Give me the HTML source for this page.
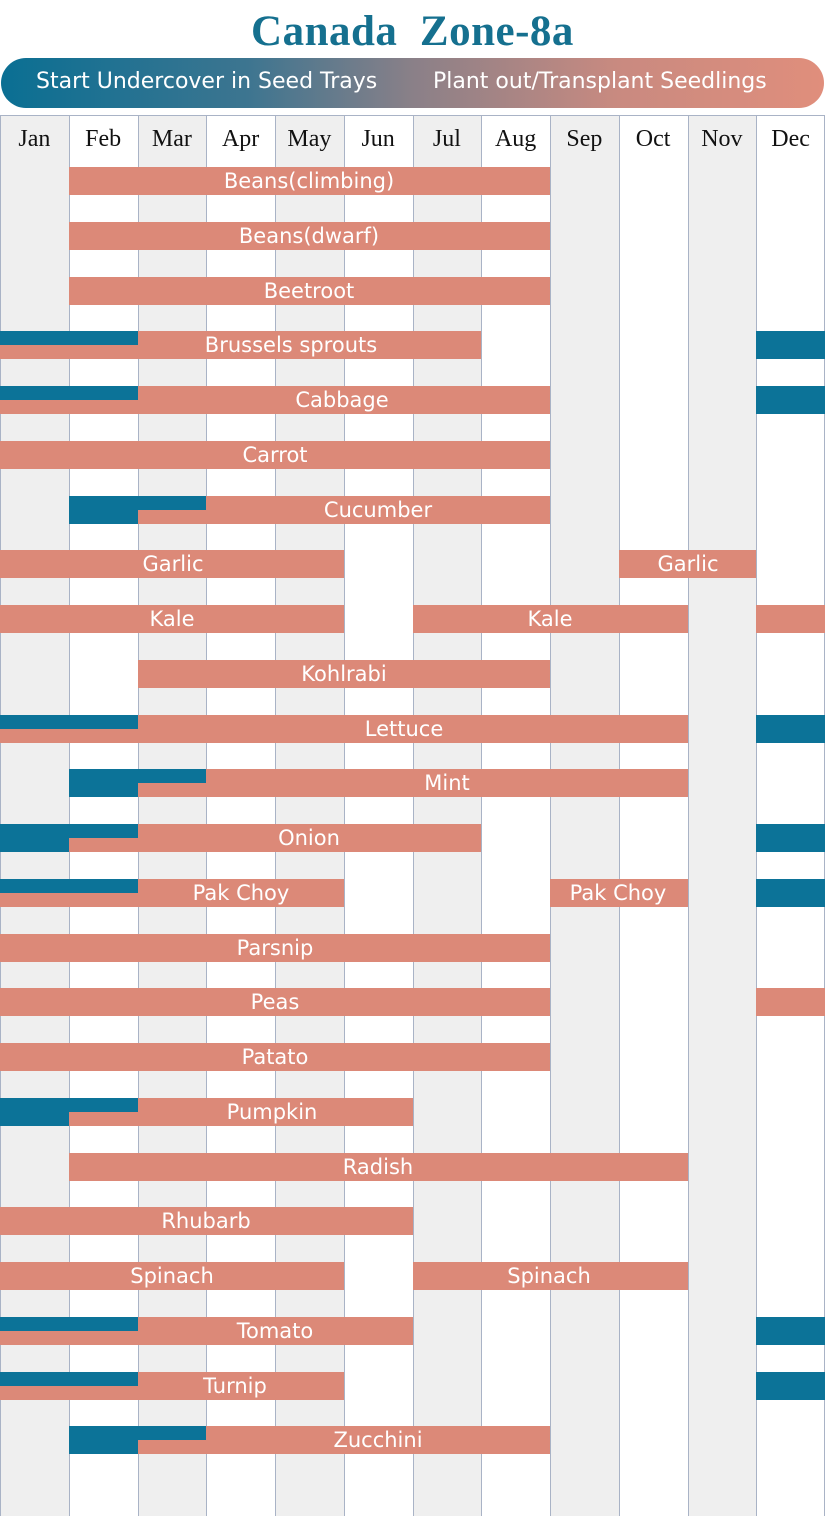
<!DOCTYPE html>
<html><head><meta charset="utf-8"><style>
body{margin:0;width:825px;height:1516px;position:relative;background:#fff;overflow:hidden;font-family:"DejaVu Sans","Liberation Sans",sans-serif}
.t{position:absolute;left:0;width:825px;top:7px;text-align:center;font-family:"Liberation Serif",serif;font-weight:bold;font-size:43px;color:#15708f;letter-spacing:0.5px}
.pill{position:absolute;left:1px;top:58px;width:823px;height:50px;border-radius:25px;background:linear-gradient(90deg,#0a6f93 0%,#3d7590 30%,#8a8088 50%,#c98a80 75%,#e08e7c 100%)}
.pill span{position:absolute;top:11px;color:#fff;font-size:22px}
.c{position:absolute;top:115px;height:1401px;border-left:1px solid #a9b3c6}
.m{position:absolute;top:126px;width:68.75px;text-align:center;font-family:"Liberation Serif",serif;font-size:24px;color:#111}
.b{position:absolute;height:28px;background:#dc8978}
.u{position:absolute;background:#0c7398}
.l{position:absolute;height:28px;line-height:29px;color:#fff;font-size:21px;transform:translateX(-50%);white-space:nowrap}
</style></head><body>
<div class="t">Canada&nbsp; Zone-8a</div>
<div class="pill"><span style="left:35px">Start Undercover in Seed Trays</span><span style="left:432px">Plant out/Transplant Seedlings</span></div>
<div style="position:absolute;left:0;top:115px;width:825px;border-top:1px solid #a9b3c6"></div>
<div id="g"></div>
<script>
var W=68.75,h='';
for(var i=0;i<12;i++){if(i%2==0&&i<11)h+='<div style="position:absolute;top:116px;height:1400px;left:'+(i*W)+'px;width:'+W+'px;background:#efefef"></div>';}
for(var i=0;i<=12;i++)h+='<div class="c" style="left:'+Math.min(i*W,824)+'px"></div>';
var ms=['Jan','Feb','Mar','Apr','May','Jun','Jul','Aug','Sep','Oct','Nov','Dec'];
ms.forEach(function(m,i){h+='<div class="m" style="left:'+(i*W)+'px">'+m+'</div>'});
var R=[
['Beans(climbing)',[[1,8]],[309]],
['Beans(dwarf)',[[1,8]],[309]],
['Beetroot',[[1,8]],[309]],
['Brussels sprouts',[[2,7]],[291],[[11,12]],[[0,2]]],
['Cabbage',[[2,8]],[342],[[11,12]],[[0,2]]],
['Carrot',[[0,8]],[275]],
['Cucumber',[[3,8]],[378],[[1,2]],[[2,3]]],
['Garlic',[[0,5],[9,11]],[173,688]],
['Kale',[[0,5],[6,10],[11,12]],[172,550]],
['Kohlrabi',[[2,8]],[344]],
['Lettuce',[[2,10]],[404],[[11,12]],[[0,2]]],
['Mint',[[3,10]],[447],[[1,2]],[[2,3]]],
['Onion',[[2,7]],[309],[[0,1],[11,12]],[[1,2]]],
['Pak Choy',[[2,5],[8,10]],[241,618],[[11,12]],[[0,2]]],
['Parsnip',[[0,8]],[275]],
['Peas',[[0,8],[11,12]],[275]],
['Patato',[[0,8]],[275]],
['Pumpkin',[[2,6]],[272],[[0,1]],[[1,2]]],
['Radish',[[1,10]],[378]],
['Rhubarb',[[0,6]],[206]],
['Spinach',[[0,5],[6,10]],[172,549]],
['Tomato',[[2,6]],[275],[[11,12]],[[0,2]]],
['Turnip',[[2,5]],[235],[[11,12]],[[0,2]]],
['Zucchini',[[3,8]],[378],[[1,2]],[[2,3]]]];
R.forEach(function(r,k){var y=167+k*54.75;
r[1].forEach(function(s){h+='<div class="b" style="top:'+y+'px;left:'+(s[0]*W)+'px;width:'+((s[1]-s[0])*W)+'px"></div>'});
(r[3]||[]).forEach(function(s){h+='<div class="u" style="height:28px;top:'+y+'px;left:'+(s[0]*W)+'px;width:'+((s[1]-s[0])*W)+'px"></div>'});
(r[4]||[]).forEach(function(s){h+='<div class="u" style="height:14px;top:'+y+'px;left:'+(s[0]*W)+'px;width:'+((s[1]-s[0])*W)+'px"></div><div class="b" style="height:14px;top:'+(y+14)+'px;left:'+(s[0]*W)+'px;width:'+((s[1]-s[0])*W)+'px"></div>'});
r[2].forEach(function(x){h+='<div class="l" style="top:'+y+'px;left:'+x+'px">'+r[0]+'</div>'});
});
document.getElementById('g').innerHTML=h;
</script>
</body></html>
